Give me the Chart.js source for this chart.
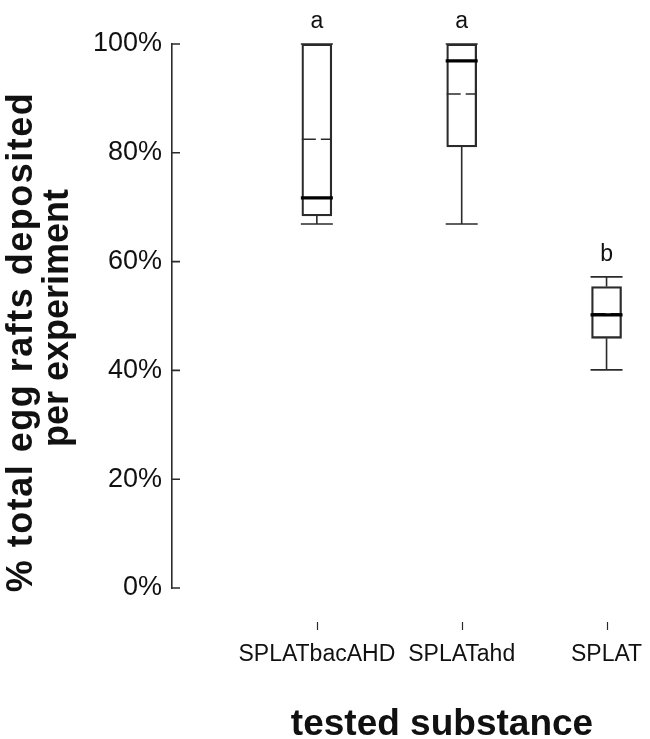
<!DOCTYPE html>
<html>
<head>
<meta charset="utf-8">
<script src="https://cdn.jsdelivr.net/npm/chart.js@4"></script>
<style>
  html, body { margin: 0; padding: 0; background: #fff; }
  #wrap { width: 650px; height: 739px; }
</style>
</head>
<body>
<div id="wrap"><canvas id="boxChart" width="650" height="739"></canvas></div>
<script>
// Data (percent of total egg rafts)
const categories = ['SPLATbacAHD', 'SPLATahd', 'SPLAT'];
const whiskerLow = [66.9, 66.9, 40.1];
const q1 = [68.4, 81.1, 45.9];
const median = [71.7, 96.9, 50.2];
const q3 = [100, 100, 55.4];
const whiskerHigh = [100, 100, 57.2];
const mean = [82.5, 90.8, 50.4];
const groupLetters = ['a', 'a', 'b'];
const yTicks = [0, 20, 40, 60, 80, 100];

const FONT = '"Liberation Sans", Arial, sans-serif';
const LINE = '#2b2b2b';

// whiskers, caps, median, mean and the significance letters
const boxParts = {
    id: 'boxParts',
    afterDatasetsDraw(chart) {
        const { ctx, scales: { x, y } } = chart;
        const meta = chart.getDatasetMeta(0);
        ctx.save();
        categories.forEach((c, i) => {
            const cx = x.getPixelForValue(i + 1);
            const half = meta.data[i].width / 2;

            ctx.strokeStyle = LINE;
            ctx.lineWidth = 1.6;
            ctx.setLineDash([]);
            ctx.beginPath();
            ctx.moveTo(cx, y.getPixelForValue(q3[i]));
            ctx.lineTo(cx, y.getPixelForValue(whiskerHigh[i]));
            ctx.moveTo(cx, y.getPixelForValue(q1[i]));
            ctx.lineTo(cx, y.getPixelForValue(whiskerLow[i]));
            // caps
            ctx.moveTo(cx - half - 1, y.getPixelForValue(whiskerHigh[i]));
            ctx.lineTo(cx + half + 1, y.getPixelForValue(whiskerHigh[i]));
            ctx.moveTo(cx - half - 1, y.getPixelForValue(whiskerLow[i]));
            ctx.lineTo(cx + half + 1, y.getPixelForValue(whiskerLow[i]));
            ctx.stroke();

            // mean (dashed)
            ctx.setLineDash([14, 5]);
            ctx.beginPath();
            ctx.moveTo(cx - half, y.getPixelForValue(mean[i]));
            ctx.lineTo(cx + half, y.getPixelForValue(mean[i]));
            ctx.stroke();

            // median (thick)
            ctx.setLineDash([]);
            ctx.strokeStyle = '#000';
            ctx.lineWidth = 3.2;
            ctx.beginPath();
            ctx.moveTo(cx - half - 1, y.getPixelForValue(median[i]));
            ctx.lineTo(cx + half + 1, y.getPixelForValue(median[i]));
            ctx.stroke();

            // letters above the upper whisker
            ctx.fillStyle = '#111';
            ctx.font = '23px ' + FONT;
            ctx.textAlign = 'center';
            ctx.textBaseline = 'alphabetic';
            ctx.fillText(groupLetters[i], cx, y.getPixelForValue(whiskerHigh[i]) - 16);
        });
        ctx.restore();
    }
};

// inward y ticks, x tick marks and the axis titles
const axisDecor = {
    id: 'axisDecor',
    afterDraw(chart) {
        const { ctx, chartArea, scales: { x, y } } = chart;
        ctx.save();
        ctx.strokeStyle = LINE;
        ctx.lineWidth = 1.6;
        ctx.beginPath();
        yTicks.forEach(v => {
            const py = y.getPixelForValue(v);
            ctx.moveTo(chartArea.left, py);
            ctx.lineTo(chartArea.left + 8, py);
        });
        ctx.stroke();

        ctx.lineWidth = 1.2;
        ctx.beginPath();
        categories.forEach((c, i) => {
            const px = Math.round(x.getPixelForValue(i + 1)) + 0.5;
            ctx.moveTo(px, chartArea.bottom + 34);
            ctx.lineTo(px, chartArea.bottom + 42);
        });
        ctx.stroke();

        ctx.fillStyle = '#111';
        ctx.font = 'bold 37px ' + FONT;
        ctx.textAlign = 'center';
        ctx.textBaseline = 'alphabetic';
        ctx.fillText('tested substance', 442, 735);

        ctx.font = 'bold 36px ' + FONT;
        ctx.rotate(-Math.PI / 2);
        ctx.letterSpacing = '1.5px';
        ctx.fillText('% total egg rafts deposited', -342, 32);
        ctx.letterSpacing = '0px';
        ctx.fillText('per experiment', -318, 68);
        ctx.restore();
    }
};

const ctx = document.getElementById('boxChart').getContext('2d');
const boxChart = new Chart(ctx, {
    type: 'bar',
    data: {
        datasets: [{
            data: categories.map((c, i) => ({ x: i + 1, y: [q1[i], q3[i]] })),
            backgroundColor: 'rgba(0,0,0,0)',
            borderColor: LINE,
            borderWidth: 1.6,
            borderSkipped: false,
            barThickness: 30
        }]
    },
    options: {
        responsive: false,
        animation: false,
        layout: { padding: { top: 44, left: 0, right: 0, bottom: 0 } },
        plugins: {
            legend: { display: false },
            tooltip: { enabled: false }
        },
        scales: {
            x: {
                type: 'linear',
                min: 0,
                max: 3.3,
                offset: false,
                grid: { display: false, offset: false, drawTicks: false, tickLength: 0 },
                border: { display: false },
                afterBuildTicks: s => { s.ticks = categories.map((c, i) => ({ value: i + 1 })); },
                afterFit: s => { s.height = 151; s.paddingLeft = 0; s.paddingRight = 0; },
                ticks: {
                    autoSkip: false,
                    maxRotation: 0,
                    padding: 53,
                    color: '#111',
                    font: { family: FONT, size: 23 },
                    callback: v => categories[v - 1]
                }
            },
            y: {
                min: 0,
                max: 100,
                grid: { display: false, drawTicks: false, tickLength: 0 },
                border: { display: true, color: LINE, width: 1.6 },
                afterBuildTicks: s => { s.ticks = yTicks.map(v => ({ value: v })); },
                afterFit: s => { s.width = 172; s.paddingTop = 0; s.paddingBottom = 0; },
                ticks: {
                    padding: 10,
                    color: '#111',
                    font: { family: FONT, size: 27 },
                    callback: v => v + '%'
                }
            }
        }
    },
    plugins: [boxParts, axisDecor]
});
</script>
</body>
</html>
